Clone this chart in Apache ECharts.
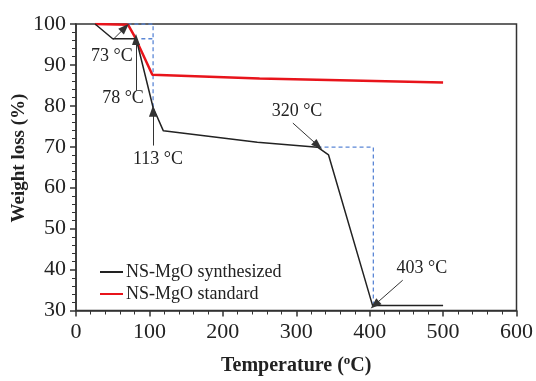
<!DOCTYPE html>
<html><head><meta charset="utf-8">
<script src="https://cdn.jsdelivr.net/npm/echarts@6/dist/echarts.min.js"></script>
<style>html,body{margin:0;padding:0;background:#fff}#c{width:536px;height:381px}</style>
</head><body><div id="c"></div>
<script>
// Data (Temperature °C, Weight %)
const synthesized = [[26,100],[50,96.4],[82,96.4],[105,79.6],[119,73.9],[247,71.1],[329,69.9],[344,68],[404,31.2],[500,31.2]];
const standard = [[26,100],[71,99.8],[80,96.9],[104,87.6],[250,86.7],[500,85.7]];
const guide1 = [[70,100],[105,100],[105,79.4]];
const guide2 = [[89,96.4],[105,96.4]];
const guide3 = [[329,69.9],[405,69.9],[405,31.2]];
// annotations: label, text position, arrow start, arrow end
const annLabels = ['73 °C','78 °C','113 °C','320 °C','403 °C'];
const annText = [[49,92.1],[64,81.8],[111.6,66.9],[301,78.7],[471,40.2]];
const annFrom = [[50.4,96.2],[81.7,83.7],[104.8,70.3],[295.4,75.8],[445,37.4]];
const annTo = [[66.7,99.1],[81.7,96.2],[104.8,78.7],[329.5,70.3],[407,31.4]];
const xTicks = {min:0,max:600,interval:100};
const yTicks = {min:30,max:100,interval:10};

const FONT = '"Liberation Serif","Times New Roman",serif';
const chart = echarts.init(document.getElementById('c'));
const dash = {type:'line',symbol:'none',silent:true,lineStyle:{color:'#5b87d6',width:1.3,type:[4,3]},z:1};
chart.setOption({
  animation:false,
  grid:{left:76,right:19,top:24,bottom:66,show:true,borderColor:'#333',borderWidth:1.5,backgroundColor:'transparent'},
  legend:{
    left:95,top:258,orient:'vertical',itemGap:4,itemWidth:23,itemHeight:2,icon:'rect',
    textStyle:{fontFamily:FONT,fontSize:18,color:'#222',padding:[0,0,0,-2]},
    data:['NS-MgO synthesized','NS-MgO standard']
  },
  xAxis:{type:'value',min:xTicks.min,max:xTicks.max,interval:xTicks.interval,
    axisLine:{lineStyle:{color:'#333',width:1.5}},
    axisTick:{length:6,lineStyle:{color:'#333',width:1.5}},
    minorTick:{show:true,splitNumber:5,length:4,lineStyle:{color:'#333',width:1}},
    splitLine:{show:false},
    axisLabel:{fontFamily:FONT,fontSize:22,color:'#222',margin:11},
    name:'Temperature ({s|o}C)',nameLocation:'middle',nameGap:44,
    nameTextStyle:{fontFamily:FONT,fontSize:20,fontWeight:'bold',color:'#222',
      rich:{s:{fontFamily:FONT,fontSize:13,fontWeight:'bold',color:'#222',verticalAlign:'top',padding:[0,0,10,0]}}}
  },
  yAxis:{type:'value',min:yTicks.min,max:yTicks.max,interval:yTicks.interval,
    axisLine:{lineStyle:{color:'#333',width:1.5}},
    axisTick:{length:6,lineStyle:{color:'#333',width:1.5}},
    minorTick:{show:true,splitNumber:5,length:4,lineStyle:{color:'#333',width:1}},
    splitLine:{show:false},
    axisLabel:{fontFamily:FONT,fontSize:22,color:'#222',margin:10}
  },
  graphic:[{type:'text',x:19,y:158,rotation:Math.PI/2,
    style:{text:'Weight loss (%)',font:'bold 19px '+FONT,fill:'#222',align:'center',verticalAlign:'middle'}}],
  series:[
    Object.assign({},dash,{data:guide1}),
    Object.assign({},dash,{data:guide2}),
    Object.assign({},dash,{data:guide3}),
    {name:'NS-MgO standard',type:'line',symbol:'none',data:standard,color:'#e8141b',lineStyle:{color:'#e8141b',width:2.5},z:3},
    {name:'NS-MgO synthesized',type:'line',symbol:'none',data:synthesized,color:'#222',lineStyle:{color:'#222',width:1.5},z:4,
      markLine:{silent:true,symbol:['none','triangle'],symbolSize:[8,11],animation:false,
        lineStyle:{color:'#333',width:1,type:'solid'},label:{show:false},
        data:annFrom.map((f,i)=>[{coord:f},{coord:annTo[i]}])}},
    {type:'scatter',symbolSize:1,itemStyle:{color:'transparent'},silent:true,z:5,
      data:annText.map((p,i)=>({value:p,name:annLabels[i]})),
      label:{show:true,position:'inside',formatter:p=>p.name,fontFamily:FONT,fontSize:18,color:'#222',textBorderWidth:0,opacity:1}}
  ]
});
</script></body></html>
